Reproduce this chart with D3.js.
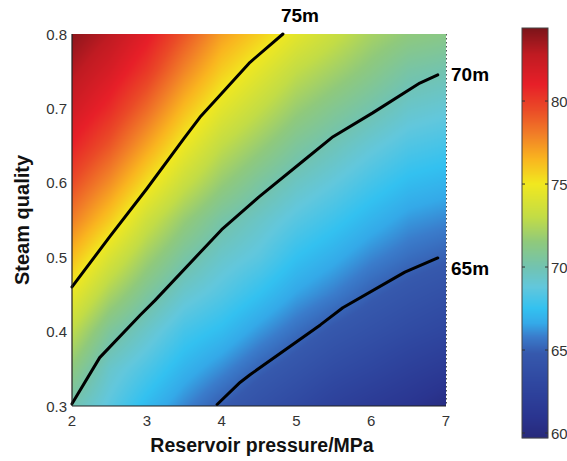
<!DOCTYPE html>
<html>
<head>
<meta charset="utf-8">
<script src="https://cdn.jsdelivr.net/npm/d3@7/dist/d3.min.js"></script>
<style>
  html, body { margin: 0; padding: 0; background: #fff; }
  svg { display: block; font-family: "Liberation Sans", Arial, sans-serif; }
</style>
</head>
<body>
<svg id="chart" width="567" height="461"></svg>
<script>
// ---- data ----
const xValues = [2, 2.5, 3, 3.5, 4, 4.5, 5, 5.5, 6, 6.5, 7];            // Reservoir pressure / MPa
const yValues = [0.3, 0.35, 0.4, 0.45, 0.5, 0.55, 0.6, 0.65, 0.7, 0.75, 0.8]; // Steam quality
// estimated field values (rows = yValues, columns = xValues)
const zRow030 = [70.0, 68.6, 67.2, 66.0, 64.9, 64.0, 63.2, 62.3, 61.6, 61.0, 60.2];
const zRow035 = [71.4, 69.3, 68.2, 67.0, 66.1, 65.1, 64.3, 63.5, 62.9, 62.2, 61.6];
const zRow040 = [72.9, 70.6, 69.3, 68.0, 67.3, 66.3, 65.4, 64.6, 64.0, 63.4, 62.9];
const zRow045 = [74.6, 72.3, 70.6, 69.2, 68.4, 67.5, 66.5, 65.8, 65.0, 64.4, 63.9];
const zRow050 = [76.3, 74.0, 72.0, 70.4, 69.3, 68.6, 67.5, 66.8, 66.0, 65.4, 65.0];
const zRow055 = [78.0, 75.9, 73.5, 71.7, 70.3, 69.4, 68.5, 67.8, 67.0, 66.3, 66.0];
const zRow060 = [79.5, 77.6, 75.3, 73.3, 71.7, 70.5, 69.5, 68.8, 68.0, 67.3, 67.0];
const zRow065 = [80.9, 79.2, 77.0, 74.8, 73.0, 71.8, 70.6, 69.8, 69.0, 68.3, 68.0];
const zRow070 = [82.1, 80.6, 78.6, 76.3, 74.4, 73.1, 71.8, 70.9, 70.1, 69.3, 69.0];
const zRow075 = [83.1, 81.8, 80.1, 77.8, 75.8, 74.4, 73.0, 72.1, 71.2, 70.3, 70.0];
const zRow080 = [84.0, 82.9, 81.3, 79.2, 77.1, 75.8, 74.4, 73.3, 72.2, 71.5, 71.2];
const zGrid = [zRow030, zRow035, zRow040, zRow045, zRow050, zRow055, zRow060, zRow065, zRow070, zRow075, zRow080];

// contour lines [x, y]
const contour75 = [[2, 0.46], [2.5, 0.527], [3, 0.592], [3.5, 0.66], [3.71, 0.688], [4.0, 0.72], [4.38, 0.762], [4.82, 0.80]];
const contour70 = [[2, 0.303], [2.37, 0.365], [2.91, 0.422], [3.11, 0.442], [4.0, 0.537], [4.5, 0.581], [5.11, 0.631], [5.49, 0.662], [6.02, 0.694], [6.65, 0.734], [6.89, 0.745]];
const contour65 = [[3.94, 0.302], [4.25, 0.332], [4.38, 0.342], [5.32, 0.409], [5.62, 0.432], [6.45, 0.48], [6.89, 0.499]];
const contourLabels = ["75m", "70m", "65m"];

const xTicks = [2, 3, 4, 5, 6, 7];
const yTicks = [0.3, 0.4, 0.5, 0.6, 0.7, 0.8];
const cbTicks = [60, 65, 70, 75, 80];
const cbDomain = [59.7, 84.4];
const cmapValues = [59.7, 61, 63, 64.8, 65.8, 66.6, 67.5, 68.8, 70, 71.5, 73, 75, 76.5, 78, 79.5, 81, 82.8, 84.4];
const cmapColors = ["#27297a", "#2a3590", "#2f47a0", "#3659ad", "#3a7ccb", "#34a9e8", "#33c1f0", "#62c7dc", "#72c3b0", "#8fc97c", "#c2dc46", "#f1e81f", "#f9b51f", "#f17e27", "#ea4a27", "#e71f28", "#c01b22", "#7b1419"];

// ---- layout ----
const plot = { left: 72, right: 446, top: 34, bottom: 406 };
const cb = { left: 522, right: 548, top: 28, bottom: 438 };

const svg = d3.select("#chart");
const x = d3.scaleLinear().domain([2, 7]).range([plot.left, plot.right]);
const y = d3.scaleLinear().domain([0.3, 0.8]).range([plot.bottom, plot.top]);
const color = d3.scaleLinear().domain(cmapValues).range(cmapColors).interpolate(d3.interpolateRgb).clamp(true);
const cbScale = d3.scaleLinear().domain(cbDomain).range([cb.bottom, cb.top]);

// bilinear interpolation over the grid
const xi = d3.scaleLinear().domain(xValues).range(d3.range(xValues.length)).clamp(true);
const yi = d3.scaleLinear().domain(yValues).range(d3.range(yValues.length)).clamp(true);
function field(px, py) {
  const fx = xi(px), fy = yi(py);
  const i0 = Math.min(Math.floor(fx), xValues.length - 2), j0 = Math.min(Math.floor(fy), yValues.length - 2);
  const tx = fx - i0, ty = fy - j0;
  const a = zGrid[j0][i0], b = zGrid[j0][i0 + 1], c = zGrid[j0 + 1][i0], d = zGrid[j0 + 1][i0 + 1];
  return (a * (1 - tx) + b * tx) * (1 - ty) + (c * (1 - tx) + d * tx) * ty;
}

// heatmap rendered on a canvas, embedded as an SVG image
const W = plot.right - plot.left, H = plot.bottom - plot.top;
const canvas = document.createElement("canvas");
canvas.width = W; canvas.height = H;
const ctx = canvas.getContext("2d");
const img = ctx.createImageData(W, H);
for (let r = 0; r < H; r++) {
  const vy = y.invert(plot.top + r + 0.5);
  for (let cI = 0; cI < W; cI++) {
    const vx = x.invert(plot.left + cI + 0.5);
    const col = d3.rgb(color(field(vx, vy)));
    const k = (r * W + cI) * 4;
    img.data[k] = col.r; img.data[k + 1] = col.g; img.data[k + 2] = col.b; img.data[k + 3] = 255;
  }
}
ctx.putImageData(img, 0, 0);
svg.append("image")
  .attr("x", plot.left).attr("y", plot.top)
  .attr("width", W).attr("height", H)
  .attr("preserveAspectRatio", "none")
  .attr("href", canvas.toDataURL());

// contour lines
const line = d3.line().x(d => x(d[0])).y(d => y(d[1]));
[contour75, contour70, contour65].forEach(c => {
  svg.append("path").attr("d", line(c))
    .attr("fill", "none").attr("stroke", "#000").attr("stroke-width", 3)
    .attr("stroke-linejoin", "round").attr("stroke-linecap", "round");
});

// frame
svg.append("line").attr("x1", plot.left).attr("x2", plot.left).attr("y1", plot.top).attr("y2", plot.bottom)
  .attr("stroke", "#222").attr("stroke-width", 1.2);
svg.append("line").attr("x1", plot.left).attr("x2", plot.right).attr("y1", plot.bottom).attr("y2", plot.bottom)
  .attr("stroke", "#222").attr("stroke-width", 1.2);
svg.append("line").attr("x1", plot.right + 0.5).attr("x2", plot.right + 0.5).attr("y1", plot.top).attr("y2", plot.bottom)
  .attr("stroke", "#555").attr("stroke-width", 1).attr("stroke-dasharray", "1.5,2.5");

// axes tick labels
svg.append("g").selectAll("text").data(xTicks).join("text")
  .attr("x", d => x(d)).attr("y", 426)
  .attr("text-anchor", "middle").attr("font-size", 15).attr("fill", "#333")
  .text(d => d);
svg.append("g").selectAll("text").data(yTicks).join("text")
  .attr("x", 67).attr("y", d => y(d) + 5.5)
  .attr("text-anchor", "end").attr("font-size", 15).attr("fill", "#333")
  .text(d => d3.format(".1f")(d));

// axis titles
svg.append("text").attr("x", 262).attr("y", 452)
  .attr("text-anchor", "middle").attr("font-size", 19.5).attr("font-weight", "bold").attr("fill", "#111")
  .text("Reservoir pressure/MPa");
svg.append("text").attr("transform", "translate(29,220) rotate(-90)")
  .attr("text-anchor", "middle").attr("font-size", 20).attr("font-weight", "bold").attr("fill", "#111")
  .text("Steam quality");

// contour labels
svg.append("text").attr("x", 300).attr("y", 22).attr("text-anchor", "middle")
  .attr("font-size", 19).attr("font-weight", "bold").attr("fill", "#000").text(contourLabels[0]);
svg.append("text").attr("x", 451).attr("y", 81).attr("text-anchor", "start")
  .attr("font-size", 19).attr("font-weight", "bold").attr("fill", "#000").text(contourLabels[1]);
svg.append("text").attr("x", 451).attr("y", 275).attr("text-anchor", "start")
  .attr("font-size", 19).attr("font-weight", "bold").attr("fill", "#000").text(contourLabels[2]);

// colorbar
const cbSteps = d3.range(cb.top, cb.bottom, 1);
svg.append("g").selectAll("rect").data(cbSteps).join("rect")
  .attr("x", cb.left).attr("y", d => d).attr("width", cb.right - cb.left).attr("height", 1.2)
  .attr("fill", d => color(cbScale.invert(d + 0.5)));
svg.append("rect").attr("x", cb.left).attr("y", cb.top).attr("width", cb.right - cb.left).attr("height", cb.bottom - cb.top)
  .attr("fill", "none").attr("stroke", "#444").attr("stroke-width", 1);
const cbT = svg.append("g");
cbTicks.forEach(t => {
  const py = cbScale(t);
  cbT.append("line").attr("x1", cb.left).attr("x2", cb.left + 3).attr("y1", py).attr("y2", py).attr("stroke", "#333");
  cbT.append("line").attr("x1", cb.right - 3).attr("x2", cb.right).attr("y1", py).attr("y2", py).attr("stroke", "#333");
  cbT.append("text").attr("x", cb.right + 3).attr("y", py + 5.5).attr("font-size", 15).attr("fill", "#333").text(t);
});
</script>
</body>
</html>
